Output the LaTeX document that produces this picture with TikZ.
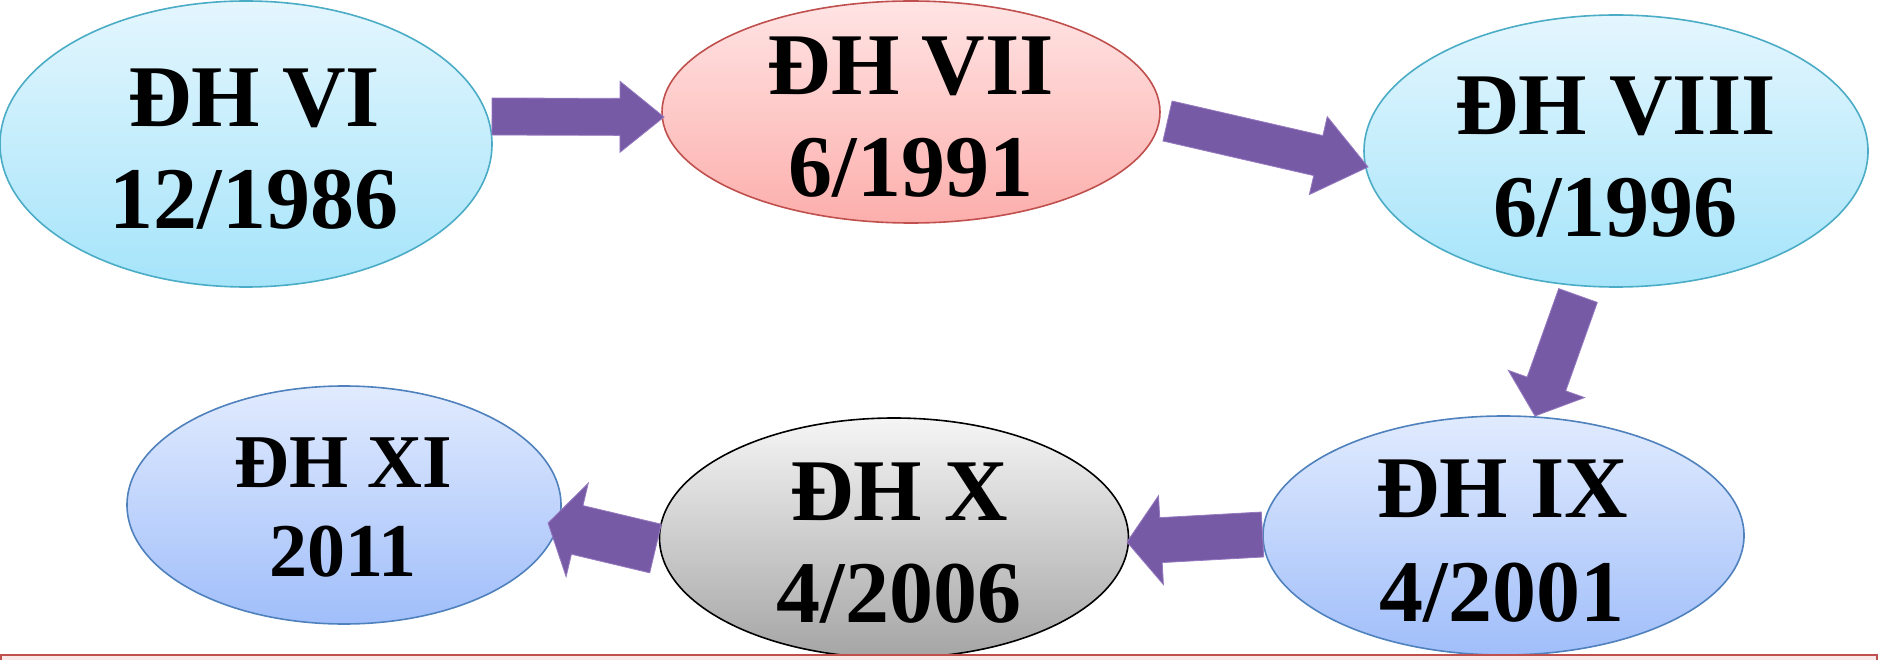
\documentclass[tikz,border=0pt]{standalone}
\usepackage{fontspec}
\setmainfont{Liberation Serif}
\usetikzlibrary{shapes.geometric,calc}

\definecolor{cyanTop}{RGB}{228,246,254}
\definecolor{cyanBot}{RGB}{165,228,250}
\definecolor{cyanLine}{RGB}{75,172,198}
\definecolor{pinkTop}{RGB}{255,228,228}
\definecolor{pinkBot}{RGB}{252,175,172}
\definecolor{redLine}{RGB}{192,80,77}
\definecolor{blueTop}{RGB}{225,235,254}
\definecolor{blueBot}{RGB}{160,190,250}
\definecolor{blueLine}{RGB}{79,129,189}
\definecolor{greyTop}{RGB}{245,245,245}
\definecolor{greyBot}{RGB}{165,165,165}
\definecolor{arrowFill}{RGB}{118,90,166}
\definecolor{arrowEdge}{RGB}{150,122,192}
\definecolor{barFill}{RGB}{250,232,232}

% block arrow: tail, tip, half shaft width, half head width, head length
\newcommand\fatarrow[5]{%
  \coordinate (hb) at ($(#2)!#5!(#1)$);
  \fill[fatarrowstyle]
    ($(#1)!#3!90:(#2)$) -- ($(hb)!#3!90:(#2)$) -- ($(hb)!#4!90:(#2)$) --
    (#2) --
    ($(hb)!#4!-90:(#2)$) -- ($(hb)!#3!-90:(#2)$) -- ($(#1)!#3!-90:(#2)$) -- cycle;
}

\begin{document}
\begin{tikzpicture}[x=1pt,y=-1pt,
  congress/.style={ellipse,inner sep=0pt,line width=1.6pt},
  cyanell/.style={congress,draw=cyanLine,top color=cyanTop,bottom color=cyanBot},
  pinkell/.style={congress,draw=redLine,top color=pinkTop,bottom color=pinkBot},
  blueell/.style={congress,draw=blueLine,top color=blueTop,bottom color=blueBot},
  greyell/.style={congress,draw=black,top color=greyTop,bottom color=greyBot},
  label/.style={anchor=north,inner sep=0pt,align=center,
    font=\fontsize{88}{102}\selectfont\bfseries},
  smalllabel/.style={label,font=\fontsize{76}{89}\selectfont\bfseries},
  fatarrowstyle/.style={fill=arrowFill,draw=arrowEdge,line width=0.8pt,line join=miter},
  bottombar/.style={draw=redLine,fill=barFill,line width=2.4pt}]

\useasboundingbox (0,0) rectangle (1878,660);

% congress ellipses
\node[cyanell,minimum width=492pt,minimum height=286pt] (e1) at (246,144) {};
\node[pinkell,minimum width=498pt,minimum height=222pt] (e2) at (911,112) {};
\node[cyanell,minimum width=504pt,minimum height=272pt] (e3) at (1616,151) {};
\node[blueell,minimum width=481pt,minimum height=239pt] (e4) at (1503.5,535.5) {};
\node[greyell,minimum width=469pt,minimum height=240pt] (e5) at (894,538) {};
\node[blueell,minimum width=434pt,minimum height=238pt] (e6) at (344,505) {};

% texts
\node[label] (t1) at (254,69) {ĐH VI\\12/1986};
\node[label] (t2) at (911,37) {ĐH VII\\6/1991};
\node[label] (t3) at (1615.5,77) {ĐH VIII\\6/1996};
\node[label,font=\fontsize{88}{104}\selectfont\bfseries] (t4) at (1502,460) {ĐH IX\\4/2001};
\node[label] (t5) at (899,463) {ĐH X\\4/2006};
\node[smalllabel] (t6) at (343,438) {ĐH XI\\2011};

% arrow end points
\coordinate (a1s) at (492,116.5);   \coordinate (a1e) at (664,117);
\coordinate (a2s) at (1167.5,121);  \coordinate (a2e) at (1368,167);
\coordinate (a3s) at (1578,295.5);  \coordinate (a3e) at (1535,416);
\coordinate (a4s) at (1262.5,534.5);\coordinate (a4e) at (1127,542);
\coordinate (a5s) at (655.5,548.5); \coordinate (a5e) at (548,523);

\fatarrow{a1s}{a1e}{18.5pt}{35.5pt}{44pt}
\fatarrow{a2s}{a2e}{20.5pt}{40pt}{51pt}
\fatarrow{a3s}{a3e}{20.5pt}{40.5pt}{34pt}
\fatarrow{a4s}{a4e}{22.5pt}{44.5pt}{34pt}
\fatarrow{a5s}{a5e}{25pt}{48pt}{30pt}

% bar along the bottom edge
\draw[bottombar] (1,655) rectangle (1877,700);
\end{tikzpicture}
\end{document}
